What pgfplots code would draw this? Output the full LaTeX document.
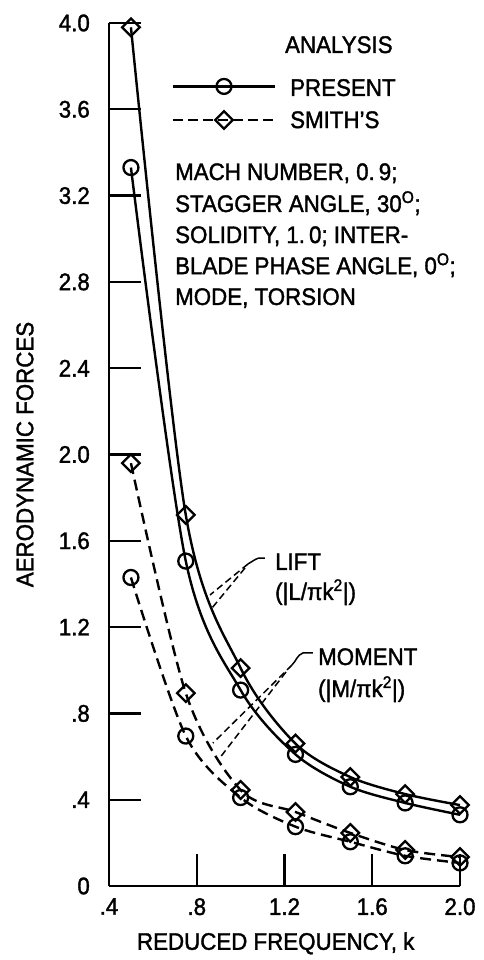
\documentclass[border=0pt]{standalone}
\usepackage{fontspec}
\setmainfont{Liberation Sans}[FakeStretch=0.93, FakeBold=1.5]
\usepackage{pgfplots}
\pgfplotsset{compat=1.18}
\begin{document}
\begin{tikzpicture}
\useasboundingbox (-109pt,-74pt) rectangle (375pt,886pt);
\begin{axis}[
  scale only axis, width=351pt, height=863pt,
  at={(0,0)}, anchor=south west,
  xmin=0.4, xmax=2.0, ymin=0, ymax=4.0,
  axis x line*=bottom, axis y line*=left,
  axis line style={line width=2.3pt,-},
  every tick/.style={line width=2.3pt,black},
  major tick length=32pt, tick align=inside,
  xtick={0.4,0.8,1.2,1.6,2.0},
  xticklabels={.4,.8,1.2,1.6,2.0},
  ytick={0,0.4,0.8,1.2,1.6,2.0,2.4,2.8,3.2,3.6,4.0},
  yticklabels={0,.4,.8,1.2,1.6,2.0,2.4,2.8,3.2,3.6,4.0},
  /pgf/number format/assume math mode=true,
  tick label style={font=\fontsize{24}{28}\selectfont},
  yticklabel style={inner xsep=0pt, xshift=-19pt},
  xticklabel style={inner ysep=0pt, yshift=-12pt},
  label style={font=\fontsize{24}{28}\selectfont},
  xlabel={REDUCED FREQUENCY, k},
  ylabel={AERODYNAMIC FORCES},
  xlabel style={at={(axis description cs:0.475,-0.0665)}, anchor=center},
  ylabel style={at={(axis description cs:-0.2393,0.5)}, anchor=center},
  clip=false,
]
% Lift, present
\addplot[black, line width=2.4pt, smooth, mark=o, mark size=7.5pt,
  mark options={solid, fill=white, line width=2.3pt}]
  coordinates {(0.5,3.33)(0.75,1.506)(1.0,0.908)(1.25,0.61)(1.5,0.46)(1.75,0.385)(2.0,0.33)};
% Lift, Smith
\addplot[black, line width=2.4pt, smooth, mark=square, mark size=6.2pt,
  mark options={solid, fill=white, line width=2.3pt, rotate=45}]
  coordinates {(0.5,3.98)(0.75,1.72)(1.0,1.01)(1.25,0.66)(1.5,0.505)(1.75,0.426)(2.0,0.375)};
% Moment, present
\addplot[black, line width=2.4pt, smooth, dash pattern=on 11pt off 6pt, mark=o, mark size=7.5pt,
  mark options={solid, fill=white, line width=2.3pt}]
  coordinates {(0.5,1.43)(0.75,0.695)(1.0,0.41)(1.25,0.275)(1.5,0.205)(1.75,0.14)(2.0,0.107)};
% Moment, Smith
\addplot[black, line width=2.4pt, smooth, dash pattern=on 11pt off 6pt, mark=square, mark size=6.2pt,
  mark options={solid, fill=white, line width=2.3pt, rotate=45}]
  coordinates {(0.5,1.96)(0.75,0.894)(1.0,0.445)(1.25,0.343)(1.5,0.246)(1.75,0.167)(2.0,0.134)};
% legend samples
\addplot[black, line width=2.4pt, mark=o, mark size=7.5pt, mark indices={2},
  mark options={solid, fill=white, line width=2.3pt}, forget plot]
  coordinates {(0.6917,3.706)(0.9242,3.706)(1.1566,3.706)};
\addplot[black, line width=2.4pt, dash pattern=on 10pt off 5pt, mark=square, mark size=6.2pt, mark indices={2},
  mark options={solid, fill=white, line width=2.3pt, rotate=45}, forget plot]
  coordinates {(0.6917,3.550)(0.9242,3.550)(1.1566,3.550)};
\begin{scope}[every node/.style={font=\fontsize{24}{28}\selectfont, inner sep=0pt, anchor=base west}]
\node at (axis cs:1.202,3.861) {ANALYSIS};
\node at (axis cs:1.225,3.662) {PRESENT};
\node at (axis cs:1.225,3.513) {SMITH'S};
\node at (axis cs:0.7008,3.272) {MACH NUMBER, 0.\,9;};
\node at (axis cs:0.7008,3.124) {STAGGER ANGLE, 30\textsuperscript{O};};
\node at (axis cs:0.7008,2.980) {SOLIDITY, 1.\,0; INTER-};
\node at (axis cs:0.7008,2.836) {BLADE PHASE ANGLE, 0\textsuperscript{O};};
\node at (axis cs:0.7008,2.693) {MODE, TORSION};
\node at (axis cs:1.1566,1.4647) {LIFT};
\node at (axis cs:1.1566,1.3256) {(|L/πk\textsuperscript{2}|)};
\node at (axis cs:1.3526,1.0243) {MOMENT};
\node at (axis cs:1.3526,0.876) {(|M/πk\textsuperscript{2}|)};
\end{scope}
% leader lines
\draw[line width=1.5pt] (axis cs:1.111,1.520) -- (axis cs:1.082,1.520) to[out=200,in=30] (axis cs:1.0335,1.4925);
\draw[line width=1.5pt, dash pattern=on 7pt off 4pt] (axis cs:1.0335,1.4925) -- (axis cs:0.8603,1.3488);
\draw[line width=1.5pt, dash pattern=on 7pt off 4pt] (axis cs:1.0199,1.4739) -- (axis cs:0.8695,1.2885);
\draw[line width=1.5pt] (axis cs:1.3298,1.080) -- (axis cs:1.2842,1.080) to[out=200,in=45] (axis cs:1.2341,1.0243);
\draw[line width=1.5pt, dash pattern=on 7pt off 4pt] (axis cs:1.2341,1.0243) -- (axis cs:0.8740,0.6628);
\draw[line width=1.5pt, dash pattern=on 7pt off 4pt] (axis cs:1.2068,0.9919) -- (axis cs:0.9013,0.5887);
\end{axis}
\end{tikzpicture}
\end{document}
